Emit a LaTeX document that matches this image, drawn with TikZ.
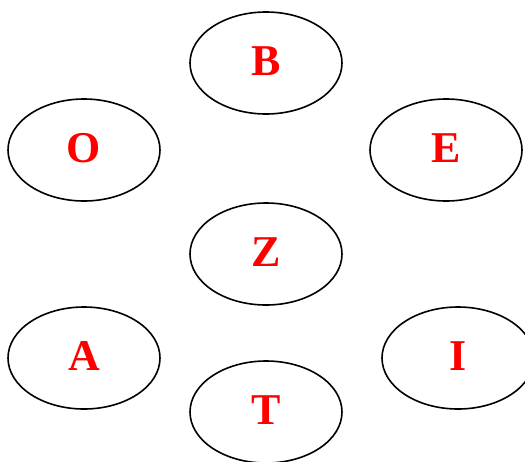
\documentclass[tikz,border=0pt]{standalone}
\usepackage{fontspec}
\setmainfont{Liberation Serif}[BoldFont={Liberation Serif Bold}]
\usetikzlibrary{shapes.geometric}
\begin{document}
\begin{tikzpicture}[x=1pt,y=-1pt,
  ell/.style={draw=black,line width=1.6pt,ellipse,minimum width=152pt,minimum height=102pt,inner sep=0pt,
    text=red,font=\fontsize{44}{44}\selectfont\bfseries}]
\newcommand\lift[1]{\raisebox{4pt}{#1}}
\useasboundingbox (0,0) rectangle (525,461);
\node[ell] (B) at (266,63) {\lift{B}};
\node[ell] (O) at (84,150) {\lift{O}};
\node[ell] (E) at (446,150) {\lift{E}};
\node[ell] (Z) at (266,254) {\lift{Z}};
\node[ell] (A) at (84,358) {\lift{A}};
\node[ell] (I) at (458,358) {\lift{I}};
\node[ell] (T) at (266,412) {\lift{T}};
\end{tikzpicture}
\end{document}
